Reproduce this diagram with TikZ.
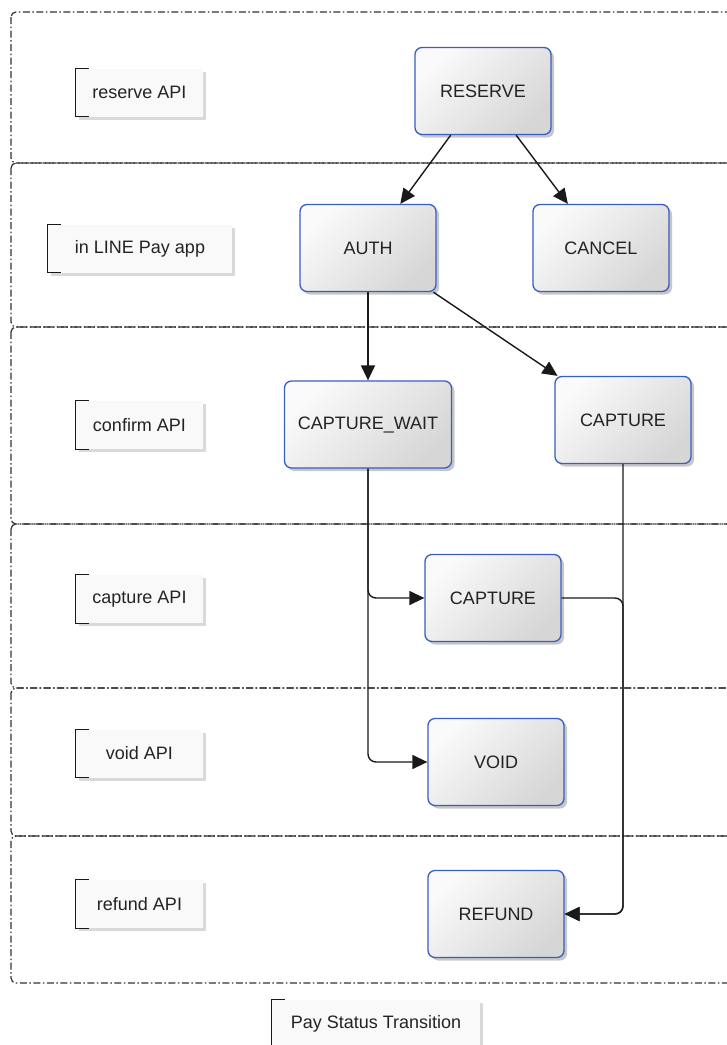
\documentclass[tikz,border=0pt]{standalone}
\usepackage{fontspec}
\setmainfont{Liberation Sans}
\usetikzlibrary{shadows,arrows.meta,calc}
\definecolor{nodeblue}{RGB}{58,94,192}
\definecolor{txt}{RGB}{35,35,35}
\begin{document}
\begin{tikzpicture}[x=1pt,y=-1pt,
  lane/.style={draw=black!80, line width=1.2pt, dash pattern=on 7pt off 2.5pt on 1.5pt off 2.5pt, rounded corners=5pt},
  state/.style={draw=nodeblue, line width=1.3pt, rounded corners=7pt,
    top color=white!96!gray, bottom color=gray!32, shading angle=45,
    minimum width=136pt, minimum height=87pt, inner sep=0pt,
    font=\fontsize{18}{20}\selectfont, text=txt,
    drop shadow={shadow xshift=3pt, shadow yshift=-3pt, opacity=0.22, fill=black}},
  note/.style={fill=gray!5, minimum height=48pt, inner sep=0pt,
    font=\fontsize{18}{20}\selectfont, text=txt,
    drop shadow={shadow xshift=3pt, shadow yshift=-3pt, opacity=0.15, fill=black}},
  bracket/.style={draw=black!90, line width=1.3pt},
  flow/.style={draw=black!90, line width=1.4pt, -{Triangle[length=15pt,width=14pt]}, rounded corners=8pt}]
\useasboundingbox (0,0) rectangle (727,1045);
\clip (0,0) rectangle (727,1045);
\fill[white] (0,0) rectangle (727,1045);

% lanes
\draw[lane] (11,12) rectangle (780,163);
\draw[lane] (11,163) rectangle (780,327);
\draw[lane] (11,327) rectangle (780,524);
\draw[lane] (11,524) rectangle (780,688);
\draw[lane] (11,688) rectangle (780,836);
\draw[lane] (11,836) rectangle (780,983);

% lane notes
\node[note, minimum width=127pt] (n1) at (139.5,92.5) {reserve API};
\node[note, minimum width=184pt] (n2) at (140,248.5) {in LINE Pay app};
\node[note, minimum width=127pt] (n3) at (139.5,425) {confirm API};
\node[note, minimum width=127pt] (n4) at (139.5,599) {capture API};
\node[note, minimum width=127pt] (n5) at (139.5,753.5) {void API};
\node[note, minimum width=127pt] (n6) at (139.5,904) {refund API};
\node[note, minimum width=208pt] (n7) at (376,1024) {Pay Status Transition};
\foreach \n in {n1,n2,n3,n4,n5,n6,n7}{
  \draw[bracket] ([xshift=13pt]\n.north west) -- (\n.north west) -- (\n.south west) -- ([xshift=13pt]\n.south west);
}

% states
\node[state] (reserve) at (483,91) {RESERVE};
\node[state] (auth) at (368,248) {AUTH};
\node[state] (cancel) at (601,248) {CANCEL};
\node[state, minimum width=167pt] (capw) at (368,424.5) {CAPTURE\_WAIT};
\node[state] (capr) at (623,420) {CAPTURE};
\node[state] (capm) at (493,598) {CAPTURE};
\node[state] (void) at (496,762) {VOID};
\node[state] (refund) at (496,914) {REFUND};

% transitions
\draw[flow] (reserve) -- (auth);
\draw[flow] (reserve) -- (cancel);
\draw[flow] (auth) -- (capw);
\draw[flow] (auth) -- (capr);
\draw[flow] (capw.south) |- (capm.west);
\draw[flow] (capw.south) |- (void.west);
\draw[flow] (capr.south) |- (refund.east);
\draw[flow] (capm.east) -| (capr.south |- refund.east) -- (refund.east);
\end{tikzpicture}
\end{document}
